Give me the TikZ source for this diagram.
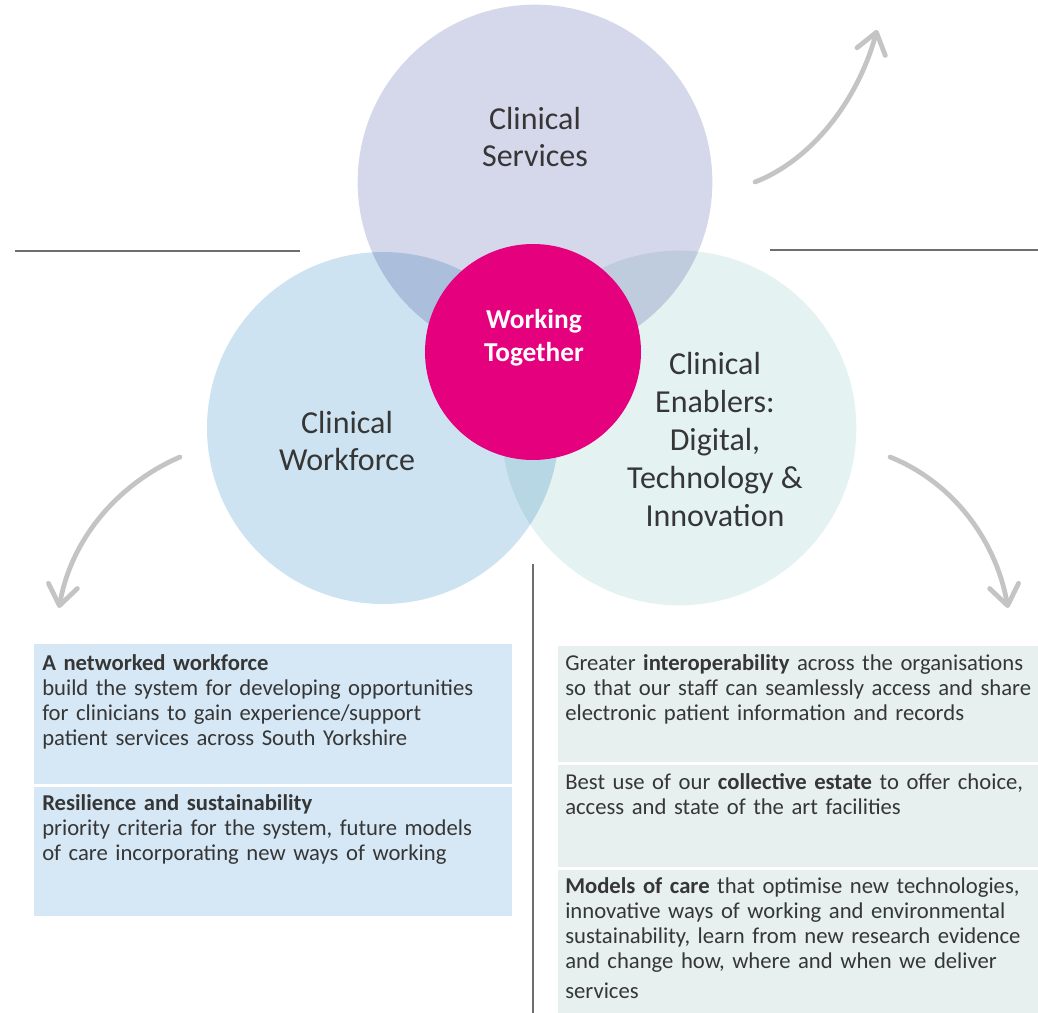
\documentclass[tikz,border=0pt]{standalone}
\usepackage{fontspec}
\setmainfont{Carlito}
\usepackage{xcolor}
\usepackage{tikz}
\usetikzlibrary{
  arrows.meta,
  positioning
}
\definecolor{ServicesBlue}{HTML}{D5D7EA}
\definecolor{WorkforceBlue}{HTML}{CDE3F1}
\definecolor{EnablersTeal}{HTML}{E5F2F2}
\definecolor{TogetherPink}{HTML}{E5007E}
\definecolor{LeftBox}{HTML}{D6E8F5}
\definecolor{RightBox}{HTML}{E7F0EF}
\definecolor{TextGrey}{HTML}{363636}
\definecolor{ArrowGrey}{HTML}{C4C4C4}
\definecolor{RuleGrey}{HTML}{6E6E6E}
\tikzset{
  circlelabel/.style = {align=center, text=TextGrey, font=\fontsize{24}{27.75}\selectfont},
  boxtext/.style     = {anchor=base west, inner sep=0pt, text width=362pt, align=left,
                        text=TextGrey, font=\fontsize{17}{18.75}\selectfont},
  bentarrow/.style   = {line width=3.6pt, ArrowGrey, line cap=round,
                        -{Straight Barb[length=15pt, width=22pt, round]}},
  divider/.style     = {line width=1.1pt, RuleGrey}
}

\begin{document}
\begin{tikzpicture}[x=0.75pt, y=-0.75pt]
  \useasboundingbox (0,0) rectangle (1038,1013);

  % Three overlapping circles
  \begin{scope}[blend group=multiply]
    \fill [ServicesBlue]  (535, 182) circle [radius=133pt];
    \fill [WorkforceBlue] (383, 428) circle [radius=132pt];
    \fill [EnablersTeal]  (679, 428) circle [radius=133pt];
  \end{scope}
  \fill [TogetherPink] (533, 352) circle [radius=81pt];

  \node [circlelabel] (services)  at (535, 137) {Clinical\\Services};
  \node [circlelabel] (workforce) at (347, 441) {Clinical\\Workforce};
  \node [circlelabel, font=\fontsize{24}{28.5}\selectfont] (enablers) at (715, 440)
        {Clinical\\Enablers:\\Digital,\\Technology \&\\Innovation};
  \node [align=center, text=white, font=\bfseries\fontsize{20.5}{24.75}\selectfont]
        (together) at (534, 338) {Working\\Together};

  % Rules
  \coordinate (ruleLa) at (15, 251);
  \coordinate (ruleLb) at (300, 251);
  \coordinate (ruleRa) at (770, 250);
  \coordinate (ruleRb) at (1038, 250);
  \coordinate (ruleVa) at (533, 564);
  \coordinate (ruleVb) at (533, 1013);
  \draw [divider] (ruleLa) -- (ruleLb);
  \draw [divider] (ruleRa) -- (ruleRb);
  \draw [divider] (ruleVa) -- (ruleVb);

  % Arrows
  \coordinate (upStart)    at (755, 182);
  \coordinate (upEnd)      at (877, 30);
  \coordinate (leftStart)  at (180, 457);
  \coordinate (leftEnd)    at (59, 608);
  \coordinate (rightStart) at (890, 457);
  \coordinate (rightEnd)   at (1008, 608);
  \draw [bentarrow] (upStart) .. controls (812, 160) and (858, 100) .. (upEnd);
  \draw [bentarrow] (leftStart) .. controls (122, 482) and (72, 535) .. (leftEnd);
  \draw [bentarrow] (rightStart) .. controls (948, 480) and (995, 535) .. (rightEnd);

  % Workforce boxes
  \fill [LeftBox] (34, 644) rectangle (512, 784);
  \fill [LeftBox] (34, 787) rectangle (512, 916);
  \node [boxtext] (network) at (42, 670)
        {\textbf{A networked workforce}\\
         build the system for developing opportunities\\
         for clinicians to gain experience/support\\
         patient services across South Yorkshire};
  \node [boxtext] (resilience) at (42, 810)
        {\textbf{Resilience and sustainability}\\
         priority criteria for the system, future models\\
         of care incorporating new ways of working};

  % Enabler boxes
  \fill [RightBox] (558, 646) rectangle (1038, 762);
  \fill [RightBox] (558, 765) rectangle (1038, 867);
  \fill [RightBox] (558, 870) rectangle (1038, 1013);
  \node [boxtext] (interop) at (565, 670)
        {Greater \textbf{interoperability} across the organisations\\
         so that our staff can seamlessly access and share\\
         electronic patient information and records};
  \node [boxtext] (estate) at (565, 789)
        {Best use of our \textbf{collective estate} to offer choice,\\
         access and state of the art facilities};
  \node [boxtext] (models) at (565, 893)
        {\textbf{Models of care} that optimise new technologies,\\
         innovative ways of working and environmental\\
         sustainability, learn from new research evidence\\
         and change how, where and when we deliver\\[4pt]
         services};
\end{tikzpicture}
\end{document}
